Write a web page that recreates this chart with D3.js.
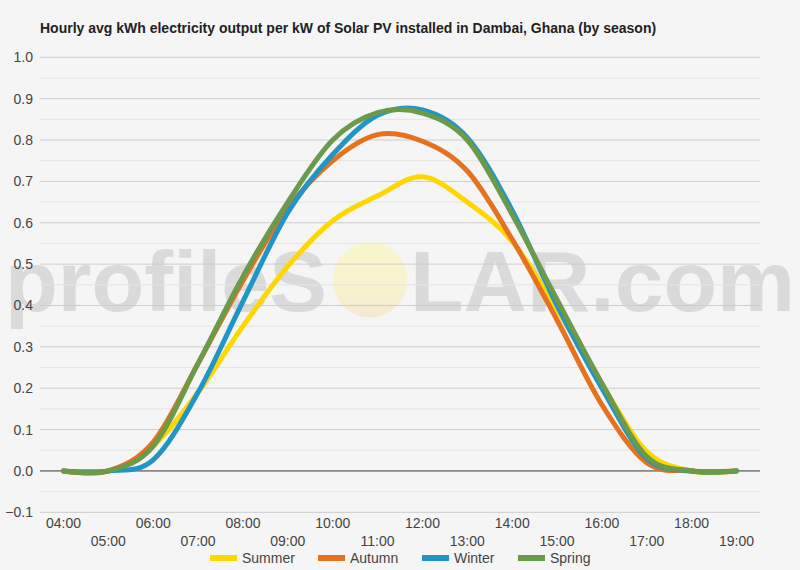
<!DOCTYPE html>
<html>
<head>
<meta charset="utf-8">
<script src="https://cdn.jsdelivr.net/npm/d3@7"></script>
<style>
  body { margin: 0; background: #f5f5f5; }
  svg { display: block; font-family: "Liberation Sans", Arial, sans-serif; }
</style>
</head>
<body>
<div id="chart"></div>
<script>
// Hours of the day (x axis)
let hours = [4, 5, 6, 7, 8, 9, 10, 11, 12, 13, 14, 15, 16, 17, 18, 19];
let hourLabels = hours.map(h => (h < 10 ? "0" : "") + h + ":00");

// kWh per kW per hour, one array per season
let summer = [0, 0, 0.06, 0.19, 0.35, 0.495, 0.605, 0.665, 0.711, 0.65, 0.555, 0.39, 0.21, 0.047, 0, 0];
let autumn = [0, 0, 0.07, 0.26, 0.46, 0.635, 0.75, 0.813, 0.797, 0.725, 0.56, 0.365, 0.16, 0.02, 0, 0];
let winter = [0, 0, 0.027, 0.19, 0.41, 0.625, 0.765, 0.86, 0.873, 0.806, 0.63, 0.40, 0.20, 0.03, 0, 0];
let spring = [0, 0, 0.06, 0.26, 0.47, 0.65, 0.80, 0.866, 0.865, 0.80, 0.62, 0.414, 0.212, 0.035, 0, 0];

let seasonNames = ["Summer", "Autumn", "Winter", "Spring"];
let seasonColors = ["#ffd700", "#e6711e", "#2196c6", "#6a9a4a"];
let yTicks = [-0.1, 0, 0.1, 0.2, 0.3, 0.4, 0.5, 0.6, 0.7, 0.8, 0.9, 1.0];

let series = [summer, autumn, winter, spring];

let svgWidth = 800;
let svgHeight = 570;
let plotLeft = 40, plotRight = 760;

let svg = d3.select("#chart")
  .append("svg")
  .attr("width", svgWidth)
  .attr("height", svgHeight);

svg.append("rect")
  .attr("width", svgWidth)
  .attr("height", svgHeight)
  .attr("fill", "#f5f5f5");

let x = d3.scaleLinear().domain([4, 19]).range([63.5, 736.5]);
let y = d3.scaleLinear().domain([-0.1, 1.0]).range([512.3, 57.3]);

// watermark
let grad = svg.append("defs").append("linearGradient")
  .attr("id", "sun").attr("x1", 0).attr("y1", 0).attr("x2", 0).attr("y2", 1);
grad.append("stop").attr("offset", "0%").attr("stop-color", "#f8f6cc");
grad.append("stop").attr("offset", "60%").attr("stop-color", "#f7f2cc");
grad.append("stop").attr("offset", "100%").attr("stop-color", "#f6e8d4");

let mark = svg.append("g").attr("fill", "#dadada")
  .style("font-weight", "bold").style("font-size", "86px");
mark.append("text").attr("x", 5).attr("y", 311)
  .attr("textLength", 322).attr("lengthAdjust", "spacingAndGlyphs")
  .text("profileS");
mark.append("ellipse")
  .attr("cx", 370).attr("cy", 280).attr("rx", 37.5).attr("ry", 37.5)
  .attr("fill", "url(#sun)");
mark.append("text").attr("x", 410).attr("y", 311)
  .attr("textLength", 385).attr("lengthAdjust", "spacingAndGlyphs")
  .text("LAR.com");

// gridlines (major and minor)
let minor = d3.range(-0.05, 1.0, 0.1);
svg.append("g").selectAll("line").data(minor).join("line")
  .attr("x1", plotLeft).attr("x2", plotRight)
  .attr("y1", d => y(d)).attr("y2", d => y(d))
  .attr("stroke", "#e4e4e4").attr("stroke-width", 1);

svg.append("g").selectAll("line").data(yTicks.filter(d => d !== 0)).join("line")
  .attr("x1", plotLeft).attr("x2", plotRight)
  .attr("y1", d => y(d)).attr("y2", d => y(d))
  .attr("stroke", "#cccccc").attr("stroke-width", 1);

svg.append("line")
  .attr("x1", plotLeft).attr("x2", plotRight)
  .attr("y1", y(0)).attr("y2", y(0))
  .attr("stroke", "#333333").attr("stroke-width", 1);

// y labels
svg.append("g").selectAll("text").data(yTicks).join("text")
  .attr("x", 33).attr("y", d => y(d) + 5)
  .attr("text-anchor", "end")
  .attr("fill", "#444")
  .style("font-size", "14px")
  .text(d => d3.format(".1f")(d));

// x labels, alternating rows
svg.append("g").selectAll("text").data(hours).join("text")
  .attr("x", d => x(d))
  .attr("y", (d, i) => i % 2 === 0 ? 528 : 546)
  .attr("text-anchor", "middle")
  .attr("fill", "#444")
  .style("font-size", "14px")
  .text((d, i) => hourLabels[i]);

// lines
let drawLine = d3.line()
  .x((d, i) => x(hours[i]))
  .y(d => y(d))
  .curve(d3.curveCardinal.tension(0));

svg.append("g").selectAll("path").data(series).join("path")
  .attr("d", d => drawLine(d))
  .attr("fill", "none")
  .attr("stroke", (d, i) => seasonColors[i])
  .attr("stroke-width", 5)
  .attr("stroke-linecap", "round")
  .attr("stroke-linejoin", "round");

// title
svg.append("text")
  .attr("x", 40).attr("y", 33)
  .attr("fill", "#222")
  .style("font-size", "14px")
  .style("font-weight", "bold")
  .text("Hourly avg kWh electricity output per kW of Solar PV installed in Dambai, Ghana (by season)");

// legend
let legendX = [210, 318, 422, 518];
let legend = svg.append("g").selectAll("g").data(seasonNames).join("g")
  .attr("transform", (d, i) => `translate(${legendX[i]}, 558)`);
legend.append("line")
  .attr("x1", 0).attr("x2", 27).attr("y1", 0).attr("y2", 0)
  .attr("stroke", (d, i) => seasonColors[i]).attr("stroke-width", 6);
legend.append("text")
  .attr("x", 32).attr("y", 5)
  .attr("fill", "#444")
  .style("font-size", "14px")
  .text(d => d);
</script>
</body>
</html>
